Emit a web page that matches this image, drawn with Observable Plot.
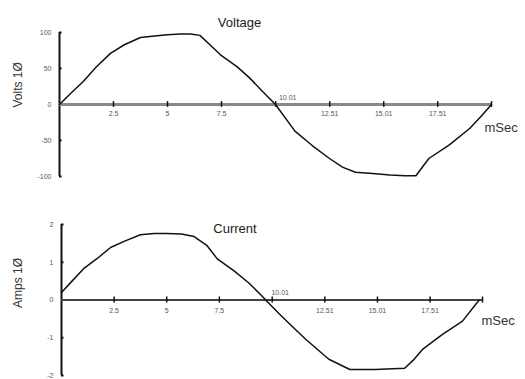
<!DOCTYPE html>
<html>
<head>
<meta charset="utf-8">
<script src="https://cdn.jsdelivr.net/npm/d3@7"></script>
<script src="https://cdn.jsdelivr.net/npm/@observablehq/plot@0.6"></script>
<style>
  body { margin: 0; background: #fff; }
  #wrap { width: 525px; height: 379px; overflow: hidden; }
  svg { display: block; overflow: visible; }
</style>
</head>
<body>
<div id="wrap"></div>
<script>
// ---- Data ----
const voltTime = [0, 0.5, 1.1, 1.7, 2.36, 3.0, 3.75, 4.4, 5, 5.6, 6.06, 6.5, 7.0, 7.45, 8.2, 8.8, 9.4, 10.0, 10.9, 11.7, 12.5, 13.1, 13.7, 14.5, 15.3, 16.0, 16.5, 17.1, 18.05, 19.0, 19.5, 20];
const volts    = [0, 15, 32, 52, 71, 83, 93, 95, 97, 98, 98, 96, 82, 69, 53, 37, 18, 0, -37, -57, -75, -87, -94, -96, -98, -99, -99, -75, -56, -33, -17, 0];

const ampTime = [0, 0.5, 1.05, 1.7, 2.33, 3.0, 3.75, 4.4, 5.0, 5.7, 6.3, 6.9, 7.4, 8.2, 8.9, 9.5, 9.7, 10.35, 11.0, 11.6, 12.7, 13.7, 14.9, 16.3, 16.7, 17.15, 18.1, 19.05, 19.7, 19.85];
const amps    = [0.2, 0.5, 0.83, 1.1, 1.39, 1.56, 1.73, 1.76, 1.76, 1.75, 1.68, 1.45, 1.09, 0.77, 0.45, 0.12, 0, -0.37, -0.72, -1.04, -1.57, -1.84, -1.84, -1.81, -1.6, -1.31, -0.91, -0.56, -0.1, 0];

const xTicks = [2.5, 5, 7.5, 10.01, 12.51, 15.01, 17.51, 20];
const xTickLabels = ["2.5", "5", "7.5", "10.01", "12.51", "15.01", "17.51", ""];
const voltTicks = [100, 50, 0, -50, -100];
const ampTicks = [2, 1, 0, -1, -2];

const FONT = "Liberation Sans, Arial, sans-serif";
const TICKC = "#555";

function chart({time, values, yDomain, yTicks, height, margins, title, yLabel, axisStroke, axisWidth, opts}) {
  const pts = time.map((t, i) => ({t, v: values[i]}));
  const span = yDomain[1] - yDomain[0];
  const midLabels = xTicks.map((x, i) => ({x, label: xTickLabels[i]}));
  const below = midLabels.filter(d => d.x !== 10.01);
  const above = midLabels.filter(d => d.x === 10.01);
  return Plot.plot({
    width: 525,
    height,
    ...margins,
    style: {fontFamily: FONT, background: "transparent", overflow: "visible"},
    x: {domain: [0, 20], axis: null},
    y: {domain: yDomain, axis: null},
    marks: [
      Plot.ruleX([0], {y1: yDomain[0], y2: yDomain[1], stroke: "#111", strokeWidth: 2}),
      Plot.ruleY(yTicks, {x1: 0, x2: 0.12, stroke: "#111", strokeWidth: 2}),
      Plot.text(yTicks, {x: 0, y: d => d, text: d => String(d), textAnchor: "end", dx: -8, fontSize: 7, fill: TICKC}),
      Plot.ruleY([0], {x1: 0, x2: 20, stroke: axisStroke, strokeWidth: axisWidth}),
      Plot.ruleX(xTicks, {y1: -span * 0.02, y2: span * 0.02, stroke: "#111", strokeWidth: 1.5}),
      Plot.text(below, {x: "x", y: 0, text: "label", dy: opts.belowDy, fontSize: 7, fill: TICKC}),
      Plot.text(above, {x: "x", y: 0, text: "label", dx: opts.aboveDx, dy: -7, fontSize: 7, fill: TICKC}),
      Plot.line(pts, {x: "t", y: "v", stroke: "#111", strokeWidth: 1.5, curve: "linear"}),
      Plot.text([title], {frameAnchor: "top", dx: opts.titleDx, dy: opts.titleDy, fontSize: 13, fill: "#222"}),
      Plot.text(["mSec"], {frameAnchor: "right", textAnchor: "start", dx: opts.msecDx, dy: opts.msecDy, fontSize: 13, fill: "#333"}),
      Plot.text([yLabel], {frameAnchor: "left", rotate: -90, dx: opts.ylabDx, dy: opts.ylabDy, fontSize: 12, fill: "#333"})
    ]
  });
}

const voltChart = chart({
  time: voltTime, values: volts, yDomain: [-100, 100], yTicks: voltTicks, height: 190,
  margins: {marginTop: 32, marginBottom: 14, marginLeft: 59, marginRight: 34},
  title: "Voltage", yLabel: "Volts 1Ø", axisStroke: "#888", axisWidth: 3,
  opts: {belowDy: 9, aboveDx: 12, titleDx: -36, titleDy: -15, msecDx: -7, msecDy: 23, ylabDx: -41, ylabDy: 3}
});

const ampChart = chart({
  time: ampTime, values: amps, yDomain: [-2, 2], yTicks: ampTicks, height: 189,
  margins: {marginTop: 34, marginBottom: 4, marginLeft: 61, marginRight: 43},
  title: "Current", yLabel: "Amps 1Ø", axisStroke: "#444", axisWidth: 2,
  opts: {belowDy: 11, aboveDx: 8, titleDx: -37, titleDy: -1, msecDx: -1, msecDy: 21, ylabDx: -43, ylabDy: 8}
});

const wrap = document.getElementById("wrap");
wrap.appendChild(voltChart);
wrap.appendChild(ampChart);
</script>
</body>
</html>
